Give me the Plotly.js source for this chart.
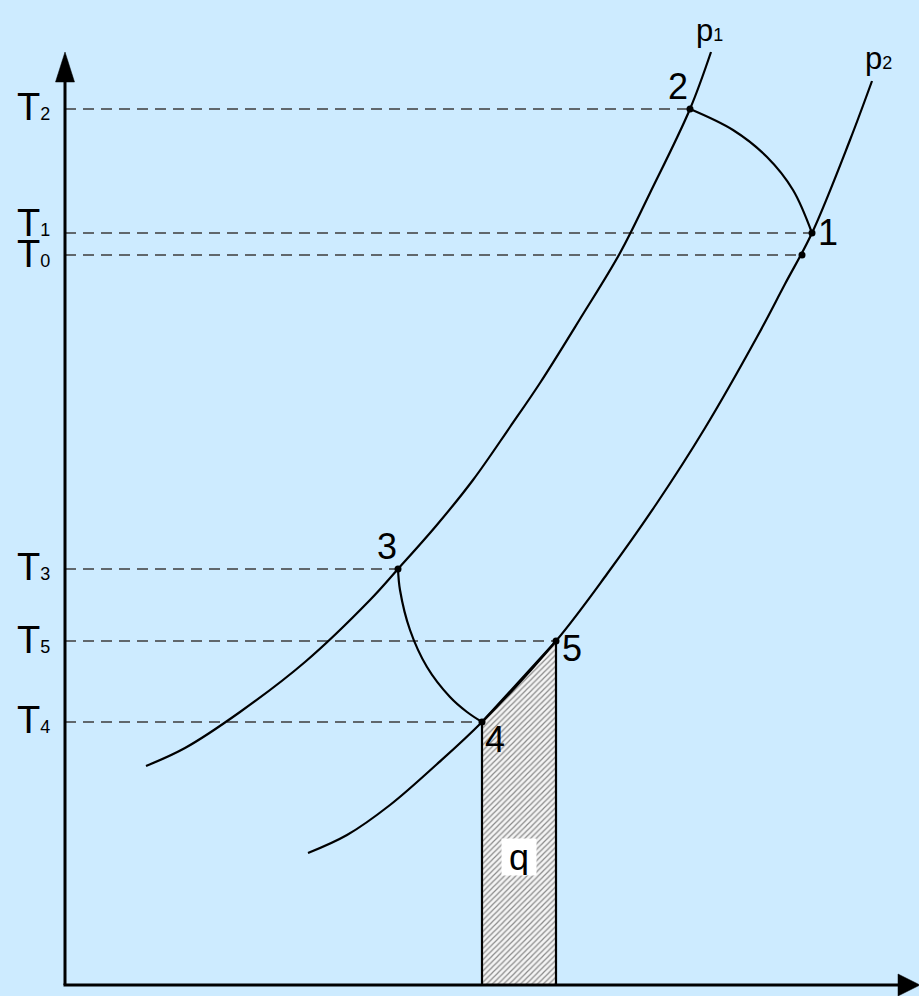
<!DOCTYPE html>
<html>
<head>
<meta charset="utf-8">
<script src="https://cdn.plot.ly/plotly-3.0.1.min.js"></script>
<style>
  html, body { margin: 0; padding: 0; background: #cdebff; }
  #chart { width: 919px; height: 996px; }
</style>
</head>
<body>
<div id="chart"></div>
<script>
// T-s diagram: two isobars p1 and p2 with the cycle states 0..5.
// Entropy s runs along x, temperature T along y (arbitrary units).

// Isobar p1
const p1S = [81, 120, 175, 240, 305, 333, 371, 408, 445, 475, 515, 555, 585, 625, 646];
const p1T = [219, 237, 273, 323, 385, 416, 459, 505, 558, 602, 666, 732, 792, 876, 933];

// Isobar p2
const p2S = [243, 282, 325, 371, 417, 491, 542, 592, 640, 692, 720, 747, 785, 807];
const p2T = [132, 150, 180, 220, 263, 344, 411, 482, 557, 648, 701, 752, 845, 904];

// Process 2 -> 1
const proc21S = [625, 668, 702, 728, 747];
const proc21T = [876, 855, 828, 795, 752];

// Process 3 -> 4
const proc34S = [333, 335, 345, 362, 385, 402, 417];
const proc34T = [416, 395, 355, 318, 288, 273, 263];

// State points
const stateNames = ['0', '1', '2', '3', '4', '5'];
const stateS = [737, 747, 625, 333, 417, 491];
const stateT = [730, 752, 876, 416, 263, 344];

// Temperature labels on the T axis
const tickNames = ['T2', 'T1', 'T0', 'T3', 'T5', 'T4'];
const tickState = ['2', '1', '0', '3', '5', '4'];

// Heat q: area under p2 between states 4 and 5
const qFrom = '4', qTo = '5';

const FONT = 'Liberation Sans, Arial, Helvetica, sans-serif';
const BG = '#cdebff';

function st(name) {
  const i = stateNames.indexOf(name);
  return { s: stateS[i], T: stateT[i] };
}

const traces = [];

// hatched heat area
const a = st(qFrom), b = st(qTo);
traces.push({
  x: [a.s, a.s, b.s, b.s, a.s],
  y: [0, a.T, b.T, 0, 0],
  mode: 'lines', fill: 'toself',
  fillcolor: '#ffffff',
  fillpattern: { shape: '/', size: 4, solidity: 0.3, fgcolor: '#8a8a8a', bgcolor: '#f4f4f4' },
  line: { color: '#000', width: 2.2 },
  hoverinfo: 'skip'
});

// dashed temperature levels
tickState.forEach(function (n) {
  const p = st(n);
  traces.push({
    x: [0, p.s], y: [p.T, p.T], mode: 'lines',
    line: { color: '#3c3c3c', width: 1.3, dash: '11px,7px' },
    hoverinfo: 'skip'
  });
});

// isobars and processes
[[p1S, p1T], [p2S, p2T], [proc21S, proc21T], [proc34S, proc34T]].forEach(function (c) {
  traces.push({
    x: c[0], y: c[1], mode: 'lines',
    line: { color: '#000', width: 2.2, shape: 'spline', smoothing: 1, simplify: false },
    hoverinfo: 'skip'
  });
});

// state dots
traces.push({
  x: stateS, y: stateT, mode: 'markers',
  marker: { color: '#000', size: 7 },
  hoverinfo: 'skip'
});

const annotations = [];

// state numbers
const numOffsets = { '1': [16, 1], '2': [-12, 23], '3': [-11, 23], '4': [13, -17], '5': [16, -7] };
Object.keys(numOffsets).forEach(function (n) {
  const p = st(n);
  annotations.push({
    x: p.s + numOffsets[n][0], y: p.T + numOffsets[n][1],
    xref: 'x', yref: 'y', text: n, showarrow: false,
    xanchor: 'center', yanchor: 'middle',
    font: { family: FONT, size: 36, color: '#000' }
  });
});

// T axis labels
const tickLift = { T2: 2, T1: 10, T0: 1, T3: 2, T5: 1, T4: 2 };
tickNames.forEach(function (name, i) {
  const p = st(tickState[i]);
  annotations.push({
    x: -50, y: p.T + tickLift[name], xref: 'x', yref: 'y',
    text: 'T<span style="font-size:18px">' + name.slice(1) + '</span>',
    showarrow: false, xanchor: 'left', yanchor: 'middle',
    font: { family: FONT, size: 38, color: '#000' }
  });
});

// isobar names
annotations.push({
  x: p1S[p1S.length - 1] - 17, y: 955, xref: 'x', yref: 'y',
  text: 'p<span style="font-size:18px">1</span>', showarrow: false,
  xanchor: 'left', yanchor: 'middle',
  font: { family: FONT, size: 31, color: '#000' }
});
annotations.push({
  x: p2S[p2S.length - 1] - 9, y: 927, xref: 'x', yref: 'y',
  text: 'p<span style="font-size:18px">2</span>', showarrow: false,
  xanchor: 'left', yanchor: 'middle',
  font: { family: FONT, size: 31, color: '#000' }
});

// q label
annotations.push({
  x: (a.s + b.s) / 2, y: 128, xref: 'x', yref: 'y',
  text: 'q', showarrow: false, xanchor: 'center', yanchor: 'middle',
  width: 34, height: 36, bgcolor: '#ffffff', borderpad: 0,
  font: { family: FONT, size: 36, color: '#000' }
});

// axes with arrow heads
const shapes = [
  { type: 'line', xref: 'x', yref: 'y', x0: 0, y0: 0, x1: 0, y1: 905, line: { color: '#000', width: 3 } },
  { type: 'path', xref: 'x', yref: 'y', path: 'M -9.5 903 L 9.5 903 L 0 933 Z', fillcolor: '#000', line: { color: '#000', width: 0.5 } },
  { type: 'line', xref: 'x', yref: 'y', x0: -1.5, y0: 0, x1: 835, y1: 0, line: { color: '#000', width: 3 } },
  { type: 'path', xref: 'x', yref: 'y', path: 'M 833 11 L 833 -11 L 855 0 Z', fillcolor: '#000', line: { color: '#000', width: 0.5 } }
];

const layout = {
  width: 919, height: 996,
  margin: { l: 0, r: 0, t: 0, b: 0, pad: 0 },
  paper_bgcolor: BG, plot_bgcolor: BG,
  showlegend: false,
  xaxis: { range: [-65, 854], visible: false, fixedrange: true },
  yaxis: { range: [-11, 985], visible: false, fixedrange: true },
  annotations: annotations,
  shapes: shapes
};

Plotly.newPlot('chart', traces, layout, { displayModeBar: false, staticPlot: true });
</script>
</body>
</html>
